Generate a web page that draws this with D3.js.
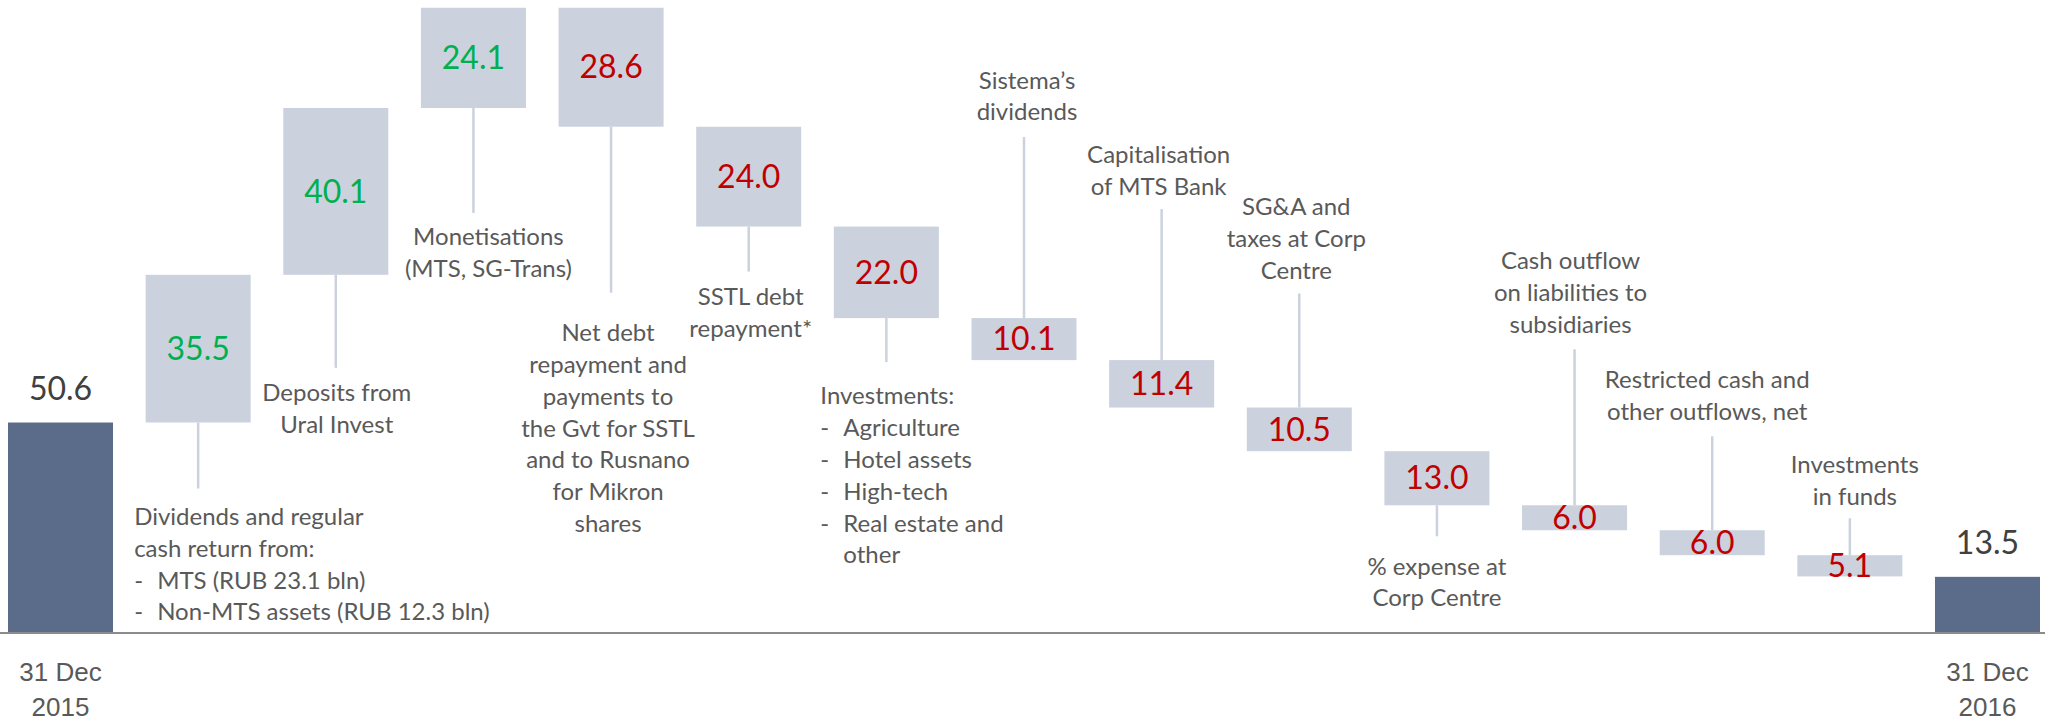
<!DOCTYPE html>
<html><head><meta charset="utf-8">
<script src="https://cdn.jsdelivr.net/npm/d3@7/dist/d3.min.js"></script>
<style>
html,body{margin:0;padding:0;background:#fff;overflow:hidden;}
svg{display:block;font-family:Lato,'Open Sans',sans-serif;}
</style></head><body>
<svg id="chart"></svg>
<script>
// cash flow steps, RUB bln
const categories=['start','dividends','deposits','monetisations','netDebt','sstl','investments','sistemaDiv','mtsBank','sga','expense','liabilities','restricted','funds','end'];
const values=[50.6,35.5,40.1,24.1,-28.6,-24.0,-22.0,-10.1,-11.4,-10.5,-13.0,-6.0,-6.0,-5.1,13.5];
const totalIdx=[0,14];
const dateLabels=[['31 Dec','2015'],['31 Dec','2016']];
const noteText=[
  null,
  ['Dividends and regular','cash return from:','- MTS (RUB 23.1 bln)','- Non-MTS assets (RUB 12.3 bln)'],
  ['Deposits from','Ural Invest'],
  ['Monetisations','(MTS, SG-Trans)'],
  ['Net debt','repayment and','payments to','the Gvt for SSTL','and to Rusnano','for Mikron','shares'],
  ['SSTL debt','repayment*'],
  ['Investments:','- Agriculture','- Hotel assets','- High-tech','- Real estate and','+ other'],
  ['Sistema’s','dividends'],
  ['Capitalisation','of MTS Bank'],
  ['SG&A and','taxes at Corp','Centre'],
  ['% expense at','Corp Centre'],
  ['Cash outflow','on liabilities to','subsidiaries'],
  ['Restricted cash and','other outflows, net'],
  ['Investments','in funds'],
  null
];
// where each note sits relative to its box
const noteLayout=[
  null,
  {side:'below',len:66,gap:28,dx:-64,anchor:'start'},
  {side:'below',len:93,gap:25,dx:1},
  {side:'below',len:105,gap:24,dx:15},
  {side:'below',len:166,gap:40,dx:-3},
  {side:'below',len:45,gap:25,dx:2},
  {side:'below',len:44,gap:34,dx:-66,anchor:'start'},
  {side:'above',len:181,gap:25,dx:3},
  {side:'above',len:151,gap:23,dx:-3},
  {side:'above',len:114,gap:23,dx:-3},
  {side:'below',len:31,gap:30,dx:0},
  {side:'above',len:156,gap:25,dx:-4},
  {side:'above',len:94,gap:25,dx:-5},
  {side:'above',len:37,gap:22,dx:5},
  null
];

const W=2045,H=721,base=633,lh=31.8;
const C={total:'#5b6c8b',box:'#cbd2de',line:'#cbd2de',up:'#00b050',down:'#c00000',txt:'#595959',dark:'#404040',axis:'#8c8c8c'};
const svg=d3.select('#chart').attr('width',W).attr('height',H);
const x=d3.scaleBand().domain(categories).range([8,2040]).paddingInner(0.237).paddingOuter(0);
const y=d3.scaleLinear().domain([0,152]).range([base,base-152*4.16]);

let run=0;
const steps=values.map((v,i)=>{
  const tot=totalIdx.includes(i);
  const a=tot?0:run, b=tot?v:run+v; run=tot?v:run+v;
  return {c:categories[i],v,i,tot,lo:Math.min(a,b),hi:Math.max(a,b)};
});

// connectors + notes
const g=svg.append('g');
steps.forEach(d=>{
  const t=noteText[d.i], L=noteLayout[d.i]; if(!t) return;
  const cx=x(d.c)+x.bandwidth()/2;
  const y0=L.side==='below'?y(d.lo):y(d.hi);
  const y1=L.side==='below'?y0+L.len:y0-L.len;
  g.append('line').attr('x1',cx).attr('x2',cx).attr('y1',y0).attr('y2',y1).attr('stroke',C.line).attr('stroke-width',2.5);
  const first=L.side==='below'?y1+L.gap:y1-L.gap-(t.length-1)*lh;
  const tx=cx+L.dx;
  t.forEach((s,k)=>{
    const ty=first+k*lh;
    if(L.anchor==='start'&&(s[0]==='-'||s[0]==='+')){
      if(s[0]==='-') g.append('text').attr('x',tx).attr('y',ty).attr('dy','0.35em').attr('fill',C.txt).attr('font-size',24).text('-');
      g.append('text').attr('x',tx+23).attr('y',ty).attr('dy','0.35em').attr('fill',C.txt).attr('font-size',24).text(s.slice(2));
    } else {
      g.append('text').attr('x',tx).attr('y',ty).attr('dy','0.35em').attr('text-anchor',L.anchor||'middle').attr('fill',C.txt).attr('font-size',24).text(s);
    }
  });
});

// bars
svg.append('g').selectAll('rect').data(steps).join('rect')
  .attr('x',d=>x(d.c)).attr('width',x.bandwidth())
  .attr('y',d=>y(d.hi)).attr('height',d=>y(d.lo)-y(d.hi))
  .attr('fill',d=>d.tot?C.total:C.box);

// value labels
svg.append('g').selectAll('text').data(steps).join('text')
  .attr('x',d=>x(d.c)+x.bandwidth()/2)
  .attr('y',d=>d.tot?y(d.hi)-34:(y(d.lo)+y(d.hi))/2)
  .attr('dy','0.35em').attr('text-anchor','middle').attr('font-size',32)
  .attr('fill',d=>d.tot?C.dark:(d.v>0?C.up:C.down))
  .text(d=>Math.abs(d.v).toFixed(1));

// baseline and date ticks
const ax=svg.append('g').attr('transform',`translate(0,${base})`)
  .call(d3.axisBottom(x).tickValues(totalIdx.map(i=>categories[i])).tickSize(0).tickPadding(0).tickFormat(''));
ax.select('.domain').remove();
svg.append('line').attr('x1',0).attr('x2',W).attr('y1',base).attr('y2',base).attr('stroke',C.axis).attr('stroke-width',2);
ax.selectAll('.tick text').each(function(c,k){
  const el=d3.select(this).attr('font-family',null).attr('font-size',26).attr('fill',C.txt).attr('y',0).attr('dy',null);
  dateLabels[k].forEach((s,j)=>el.append('tspan').attr('x',0).attr('y',39+j*35).attr('dy','0.35em').text(s));
});
</script>
</body></html>
